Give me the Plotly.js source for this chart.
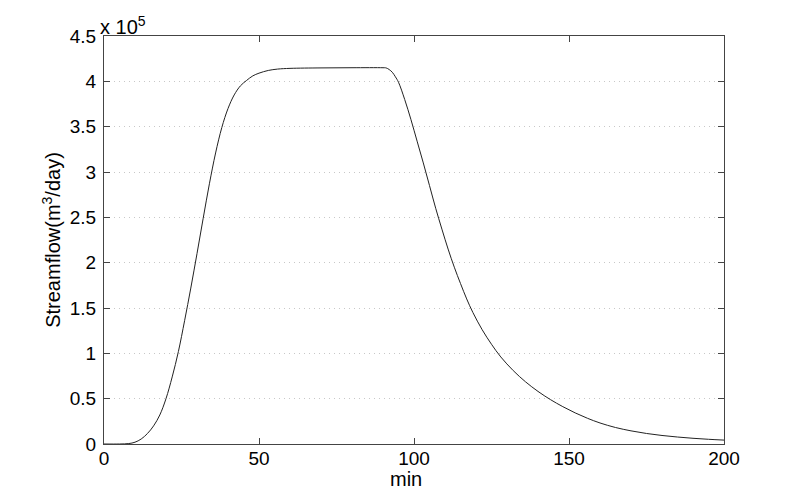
<!DOCTYPE html>
<html>
<head>
<meta charset="utf-8">
<script src="https://cdn.plot.ly/plotly-3.0.1.min.js"></script>
<style>html,body{margin:0;padding:0;background:#fff;}#chart{width:800px;height:500px;}</style>
</head>
<body>
<div id="chart"></div>
<script>
// Time (min)
const timeMin = [0, 5, 8, 10, 12, 14, 16, 18, 20, 22, 24, 26, 28, 30, 32, 34, 36, 38, 40, 42, 44, 46, 48, 50, 53, 56, 60, 70, 80, 90, 91, 92, 93, 94, 95, 97, 99, 101, 103, 105, 107, 109, 111, 113, 115, 117, 119, 122, 125, 128, 132, 136, 140, 144, 148, 152, 156, 160, 165, 170, 175, 180, 185, 190, 195, 200];
// Streamflow in units of 10^5 m^3/day
const streamflowE5 = [0, 0, 0.005, 0.02, 0.055, 0.115, 0.2, 0.32, 0.5, 0.74, 1.02, 1.36, 1.72, 2.1, 2.49, 2.87, 3.21, 3.49, 3.7, 3.85, 3.95, 4.01, 4.06, 4.09, 4.12, 4.135, 4.143, 4.148, 4.15, 4.15, 4.148, 4.13, 4.1, 4.05, 3.99, 3.8, 3.58, 3.34, 3.1, 2.85, 2.6, 2.37, 2.15, 1.95, 1.77, 1.6, 1.45, 1.26, 1.1, 0.96, 0.81, 0.685, 0.58, 0.49, 0.412, 0.343, 0.283, 0.232, 0.182, 0.145, 0.116, 0.094, 0.077, 0.063, 0.052, 0.043];
const xTicks = [0, 50, 100, 150, 200];
const yTicks = [0, 0.5, 1, 1.5, 2, 2.5, 3, 3.5, 4, 4.5];
const yTickLabels = ['0', '0.5', '1', '1.5', '2', '2.5', '3', '3.5', '4', '4.5'];
const xTitle = 'min';
const yTitle = 'Streamflow(m<sup>3</sup>/day)';
const yExponent = 'x 10<sup>5</sup>';

const fam = 'Liberation Sans, Arial, sans-serif';
const tickFont = {family: fam, size: 19, color: '#000'};
const titleFont = {family: fam, size: 20, color: '#000'};

Plotly.newPlot('chart', [{
  x: timeMin, y: streamflowE5, type: 'scatter', mode: 'lines',
  line: {color: '#222', width: 1, shape: 'spline', smoothing: 1},
  hoverinfo: 'skip'
}], {
  width: 800, height: 500,
  margin: {l: 104, r: 76, t: 36, b: 56},
  paper_bgcolor: '#fff', plot_bgcolor: '#fff',
  showlegend: false,
  font: tickFont,
  xaxis: {
    range: [0, 200], tickvals: xTicks, ticktext: xTicks.map(String),
    showgrid: false, zeroline: false,
    showline: true, linecolor: '#444', linewidth: 1, mirror: 'allticks',
    ticks: 'inside', ticklen: 6, tickcolor: '#444',
    tickfont: tickFont, ticklabelstandoff: -3
  },
  yaxis: {
    range: [0, 4.5], tickvals: yTicks, ticktext: yTickLabels,
    showgrid: true, gridcolor: '#c8c8c8', gridwidth: 1, griddash: '1px,4px',
    zeroline: false,
    showline: true, linecolor: '#444', linewidth: 1, mirror: 'allticks',
    ticks: 'inside', ticklen: 6, tickcolor: '#444',
    tickfont: tickFont, ticklabelstandoff: 3,
    title: {text: yTitle, font: titleFont, standoff: 3}
  },
  annotations: [{
    text: yExponent, xref: 'paper', yref: 'paper', x: 0, y: 1,
    xanchor: 'left', yanchor: 'bottom', showarrow: false,
    font: {family: fam, size: 20, color: '#000'}, yshift: -4, xshift: -6
  }, {
    text: xTitle, xref: 'paper', yref: 'paper', x: 0.5, y: 0,
    xanchor: 'center', yanchor: 'middle', showarrow: false,
    font: titleFont, yshift: -35, xshift: -8
  }]
}, {displayModeBar: false, staticPlot: true});
</script>
</body>
</html>
